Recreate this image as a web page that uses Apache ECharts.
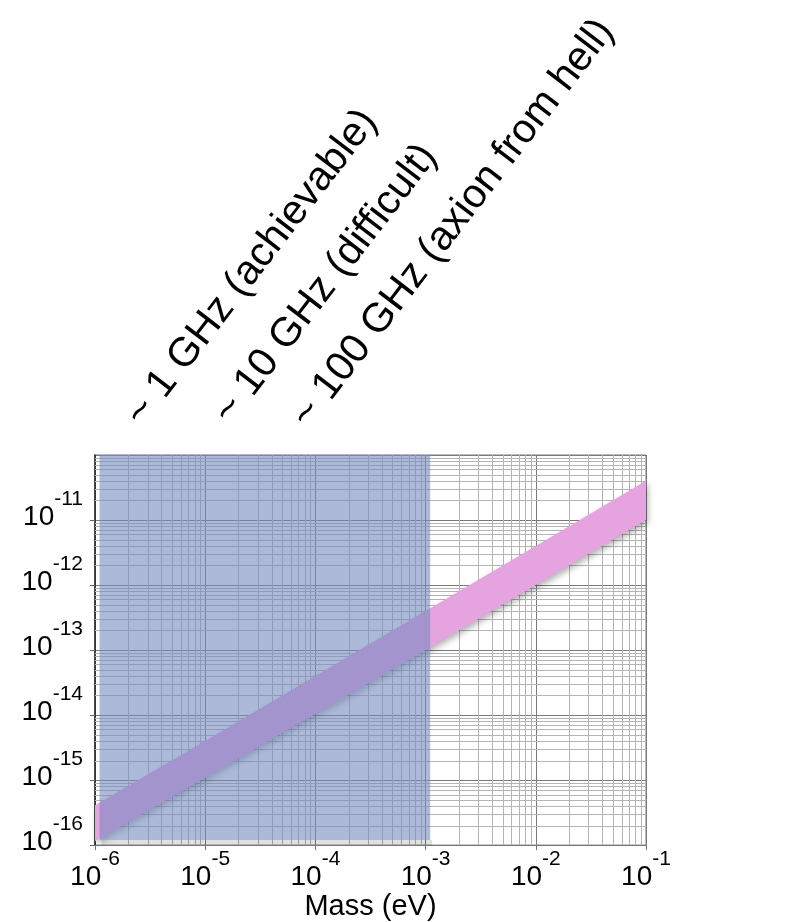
<!DOCTYPE html>
<html>
<head>
<meta charset="utf-8">
<title>Axion mass vs coupling</title>
<script src="https://cdn.jsdelivr.net/npm/echarts@6/dist/echarts.min.js"></script>
<style>
  html, body { margin: 0; padding: 0; background: #fff; }
  #chart { width: 809px; height: 922px; }
</style>
</head>
<body>
<div id="chart"></div>
<script>
// band edges
const massPoints = [1e-6, 1e-5, 1e-4, 1e-3, 1e-2, 1e-1];
const couplingLow = [1.15e-16, 1.1e-15, 1.05e-14, 1e-13, 1e-12, 1e-11];
const couplingHigh = [4.1e-16, 4e-15, 4e-14, 4e-13, 4e-12, 4e-11];

// shaded (reachable) region
const regionMass = [1.1e-6, 1.1e-3];
const regionCoupling = [1.2e-16, 1e-10];

// axis ranges
const xRange = [1e-6, 1e-1];
const yRange = [1e-16, 1e-10];

const freqLabels = ['~ 1 GHz (achievable)', '~ 10 GHz (difficult)', '~ 100 GHz (axion from hell)'];
const xAxisName = 'Mass (eV)';

const FONT = '"Liberation Sans", Arial, Helvetica, sans-serif';

// minor grid at 2..9 x 10^n
function minorValues(range) {
  const out = [];
  const lo = Math.round(Math.log10(range[0]));
  const hi = Math.round(Math.log10(range[1]));
  for (let e = lo; e < hi; e++) {
    for (let k = 2; k <= 9; k++) out.push(k * Math.pow(10, e));
  }
  return out;
}

const powLabel = (v) => '{b|10}{s|' + Math.round(Math.log10(v)) + '}';
const labelRich = {
  b: { fontSize: 28, lineHeight: 42, verticalAlign: 'bottom', color: '#000', fontFamily: FONT },
  s: { fontSize: 21, verticalAlign: 'top', color: '#000', fontFamily: FONT }
};

const labelPos = [[134, 421], [222, 419], [300, 423]];
const MINOR = '#b4b4b4';

const chart = echarts.init(document.getElementById('chart'));

const option = {
  animation: false,
  backgroundColor: '#fff',
  grid: {
    left: 95, right: 163, top: 455, bottom: 74,
    show: true, borderColor: '#7a7a7a', borderWidth: 1
  },
  xAxis: {
    type: 'log',
    logBase: 10,
    min: xRange[0],
    max: xRange[1],
    splitNumber: 5,
    name: xAxisName,
    nameLocation: 'middle',
    nameGap: 42,
    nameTextStyle: { fontSize: 29, color: '#000', fontFamily: FONT },
    axisLine: { show: true, lineStyle: { color: '#777', width: 1 } },
    axisTick: { show: true, inside: false, length: 5, lineStyle: { color: '#777' } },
    splitLine: { show: true, lineStyle: { color: '#7a7a7a', width: 1 } },
    axisLabel: { margin: 4, formatter: powLabel, rich: labelRich }
  },
  yAxis: {
    type: 'log',
    logBase: 10,
    min: yRange[0],
    max: yRange[1],
    splitNumber: 6,
    axisLine: { show: true, lineStyle: { color: '#222', width: 1.5 } },
    axisTick: { show: true, inside: false, length: 5, lineStyle: { color: '#666' } },
    splitLine: { show: true, lineStyle: { color: '#7a7a7a', width: 1 } },
    axisLabel: {
      margin: 12,
      padding: [0, 0, 20, 0],
      showMaxLabel: false,
      formatter: powLabel,
      rich: labelRich
    }
  },
  series: [
    {
      // minor vertical grid lines
      type: 'custom',
      z: 1,
      silent: true,
      data: minorValues(xRange).map((v) => [v, yRange[0]]),
      renderItem: (params, api) => {
        const cs = params.coordSys;
        const x = Math.round(api.coord([api.value(0), yRange[0]])[0]) + 0.5;
        return {
          type: 'line',
          shape: { x1: x, y1: cs.y, x2: x, y2: cs.y + cs.height },
          style: { stroke: MINOR, lineWidth: 1 }
        };
      }
    },
    {
      // minor horizontal grid lines
      type: 'custom',
      z: 1,
      silent: true,
      data: minorValues(yRange).map((v) => [xRange[0], v]),
      renderItem: (params, api) => {
        const cs = params.coordSys;
        const y = Math.round(api.coord([xRange[0], api.value(1)])[1]) + 0.5;
        return {
          type: 'line',
          shape: { x1: cs.x, y1: y, x2: cs.x + cs.width, y2: y },
          style: { stroke: MINOR, lineWidth: 1 }
        };
      }
    },
    {
      // coupling band
      type: 'custom',
      z: 3,
      silent: true,
      data: massPoints.map((m, i) => [m, couplingLow[i], couplingHigh[i]]),
      encode: { x: 0, y: [1, 2] },
      renderItem: (params, api) => {
        if (params.dataIndex !== 0) return;
        const top = massPoints.map((m, i) => api.coord([m, couplingHigh[i]]));
        const bottom = massPoints.map((m, i) => api.coord([m, couplingLow[i]])).reverse();
        return {
          type: 'polygon',
          shape: { points: top.concat(bottom) },
          style: {
            fill: 'rgb(229,163,224)',
            shadowBlur: 6,
            shadowOffsetX: 2,
            shadowOffsetY: 3,
            shadowColor: 'rgba(0,0,0,0.3)'
          }
        };
      }
    },
    {
      // blue region on top of the band
      type: 'custom',
      z: 5,
      silent: true,
      data: [[regionMass[0], regionCoupling[0], regionMass[1], regionCoupling[1]]],
      renderItem: (params, api) => {
        const cs = params.coordSys;
        const p0 = api.coord([api.value(0), api.value(1)]);
        const p1 = api.coord([api.value(2), api.value(3)]);
        const bottom = cs.y + cs.height;
        return {
          type: 'group',
          children: [
            {
              // faint shadow under the block
              type: 'rect',
              shape: { x: p0[0] + 2, y: p0[1], width: p1[0] - p0[0], height: bottom - p0[1] },
              style: { fill: 'rgba(0,0,0,0.12)' }
            },
            {
              type: 'rect',
              shape: { x: p0[0], y: p1[1], width: p1[0] - p0[0], height: p0[1] - p1[1] },
              style: { fill: 'rgba(118,138,192,0.6)' }
            }
          ]
        };
      }
    }
  ],
  graphic: freqLabels.map((t, i) => ({
    type: 'text',
    x: labelPos[i][0],
    y: labelPos[i][1],
    rotation: 52.5 * Math.PI / 180,
    style: {
      text: t,
      x: 0,
      y: 0,
      fill: '#000',
      font: '41px ' + FONT,
      align: 'left',
      verticalAlign: 'middle'
    }
  }))
};

chart.setOption(option);
</script>
</body>
</html>
